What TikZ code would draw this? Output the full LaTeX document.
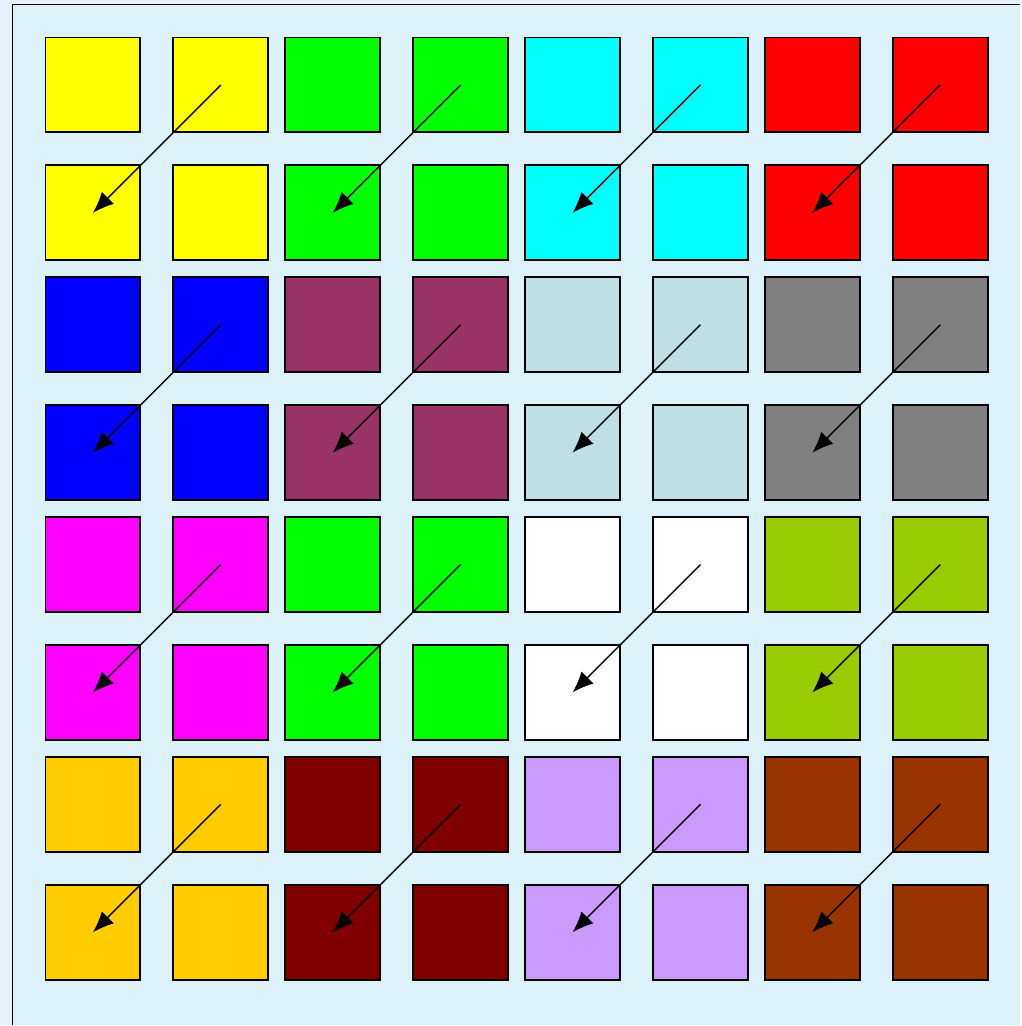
\documentclass[tikz,border=0pt]{standalone}
\usetikzlibrary{arrows.meta}
\definecolor{bgout}{HTML}{E8F1FB}
\definecolor{bgin}{HTML}{DCF2F8}
\definecolor{tileyellow}{HTML}{FFFF00}
\definecolor{tilegreen}{HTML}{00FF00}
\definecolor{tilecyan}{HTML}{00FFFF}
\definecolor{tilered}{HTML}{FF0000}
\definecolor{tileblue}{HTML}{0000FF}
\definecolor{tileplum}{HTML}{993366}
\definecolor{tileteal}{HTML}{BEE0E4}
\definecolor{tilegray}{HTML}{808080}
\definecolor{tilemagenta}{HTML}{FF00FF}
\definecolor{tilewhite}{HTML}{FFFFFF}
\definecolor{tilelime}{HTML}{99CC00}
\definecolor{tilegold}{HTML}{FFCC00}
\definecolor{tilemaroon}{HTML}{800000}
\definecolor{tilelavender}{HTML}{CC99FF}
\definecolor{tilerust}{HTML}{993300}

\begin{document}
\begin{tikzpicture}[x=0.02cm,y=-0.02cm]
        \tikzset{box/.style={draw, line width=1.1pt, minimum size=1.9cm, inner sep=0pt, outer sep=0pt},
                 link/.style={-{Latex[length=4.2mm, width=3.4mm]}, line width=0.8pt}}
        % background and frame
        \fill[bgout] (0,0) rectangle (1021,1026);
        \fill[bgin] (12.5,4.5) rectangle (1021,1026);
        \draw[line width=0.9pt] (12.5,1026) -- (12.5,4.5) -- (1021,4.5);
        \useasboundingbox (0,0) rectangle (1021,1026);

        % 4x4 blocks of four squares each
        \foreach \c [count=\i from 0] in {tileyellow,tilegreen,tilecyan,tilered,
                                          tileblue,tileplum,tileteal,tilegray,
                                          tilemagenta,tilegreen,tilewhite,tilelime,
                                          tilegold,tilemaroon,tilelavender,tilerust}{
            \pgfmathtruncatemacro{\br}{\i/4}
            \pgfmathtruncatemacro{\bc}{mod(\i,4)}
            \pgfmathsetmacro{\xa}{93+240*\bc}
            \pgfmathsetmacro{\ya}{85+240*\br}
            \node[box, fill=\c] (b\i-tl) at (\xa,\ya) {};
            \node[box, fill=\c] (b\i-tr) at (\xa+128,\ya) {};
            \node[box, fill=\c] (b\i-bl) at (\xa,\ya+128) {};
            \node[box, fill=\c] (b\i-br) at (\xa+128,\ya+128) {};
        }

        % diagonal arrows
        \foreach \i in {0,...,15}
            \draw[link] (b\i-tr.center) -- (b\i-bl.center);
\end{tikzpicture}
\end{document}
